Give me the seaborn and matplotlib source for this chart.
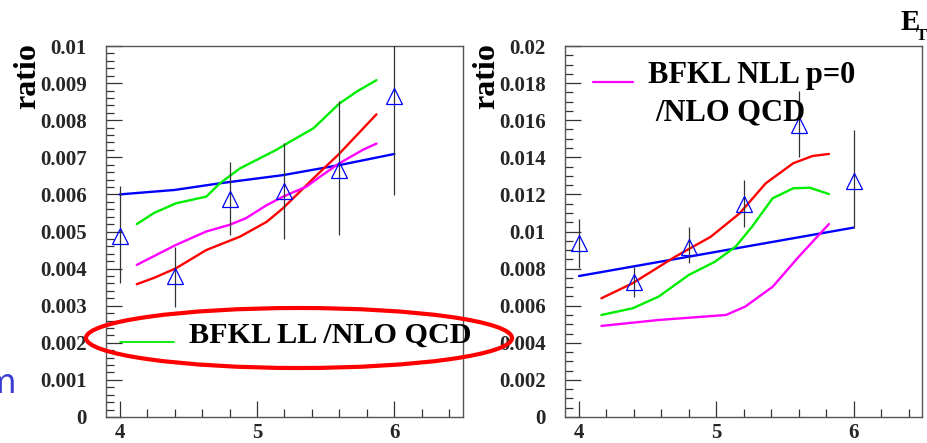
import numpy as np
import matplotlib
matplotlib.use('Agg')
import matplotlib.pyplot as plt
from matplotlib.patches import Ellipse
from matplotlib.lines import Line2D
from matplotlib.ticker import MultipleLocator
import seaborn as sns

# measured points (triangles) with error bars
pts_x = [4.0, 4.4, 4.8, 5.2, 5.6, 6.0]

left_pts = [0.00488, 0.00379, 0.00587, 0.00610, 0.00666, 0.00865]
left_lo = [0.00362, 0.00297, 0.00490, 0.00480, 0.00490, 0.00598]
left_hi = [0.00622, 0.00459, 0.00686, 0.00739, 0.00852, 0.01120]

right_pts = [0.00936, 0.00729, 0.00918, 0.01148, 0.01574, 0.01274]
right_lo = [0.00802, 0.00648, 0.00829, 0.01023, 0.01400, 0.01017]
right_hi = [0.01066, 0.00810, 0.01026, 0.01278, 0.01759, 0.01547]

# theory curves, left panel
lb_x = [4.0, 4.4, 4.73, 5.19, 5.6, 6.0]
lb_y = [0.00600, 0.00612, 0.00630, 0.00652, 0.00679, 0.00709]
lg_x = [4.124, 4.25, 4.41, 4.63, 4.73, 4.875, 5.14, 5.24, 5.41, 5.6, 5.73, 5.87]
lg_y = [0.00520, 0.00550, 0.00576, 0.00594, 0.00630, 0.00670, 0.00720, 0.00742, 0.00778, 0.00845, 0.00878, 0.00908]
lr_x = [4.124, 4.25, 4.41, 4.63, 4.875, 5.07, 5.19, 5.41, 5.6, 5.87]
lr_y = [0.00358, 0.00375, 0.00401, 0.00450, 0.00486, 0.00526, 0.00563, 0.00643, 0.00710, 0.00816]
lm_x = [4.124, 4.41, 4.63, 4.80, 4.92, 5.07, 5.19, 5.36, 5.46, 5.6, 5.77, 5.87]
lm_y = [0.00410, 0.00464, 0.00500, 0.00518, 0.00536, 0.00571, 0.00594, 0.00621, 0.00648, 0.00684, 0.00720, 0.00737]

# theory curves, right panel
rb_x = [4.0, 6.0]
rb_y = [0.00760, 0.01021]
rr_x = [4.163, 4.39, 4.70, 4.96, 5.17, 5.36, 5.56, 5.70, 5.82]
rr_y = [0.00640, 0.00721, 0.00864, 0.00972, 0.01098, 0.01260, 0.01368, 0.01407, 0.01418]
rg_x = [4.163, 4.39, 4.58, 4.80, 4.99, 5.14, 5.26, 5.41, 5.56, 5.68, 5.82]
rg_y = [0.00550, 0.00586, 0.00649, 0.00766, 0.00837, 0.00918, 0.01026, 0.01179, 0.01233, 0.01236, 0.01202]
rm_x = [4.163, 4.58, 5.07, 5.21, 5.41, 5.60, 5.82]
rm_y = [0.00491, 0.00523, 0.00550, 0.00595, 0.00702, 0.00864, 0.01040]

x_ticks = [4, 5, 6]
x_labels = ['4', '5', '6']
left_ticks = [0, 0.001, 0.002, 0.003, 0.004, 0.005, 0.006, 0.007, 0.008, 0.009, 0.01]
left_labels = ['0', '0.001', '0.002', '0.003', '0.004', '0.005', '0.006', '0.007', '0.008', '0.009', '0.01']
right_ticks = [0, 0.002, 0.004, 0.006, 0.008, 0.01, 0.012, 0.014, 0.016, 0.018, 0.02]
right_labels = ['0', '0.002', '0.004', '0.006', '0.008', '0.01', '0.012', '0.014', '0.016', '0.018', '0.02']

sns.set_style('ticks')
plt.rcParams['font.family'] = ['Liberation Serif', 'DejaVu Sans']

W, H = 928, 443
fig = plt.figure(figsize=(9.28, 4.43), dpi=100)
ax1 = fig.add_axes([106 / W, 26 / H, 357 / W, 371 / H])
ax2 = fig.add_axes([565.3 / W, 26 / H, 357 / W, 371 / H])

BLUE, GREEN, RED, MAG = '#0000ff', '#00ee00', '#ff0000', '#ff00ff'
LW = 1.7
TICKFONT = dict(fontsize=15, fontweight='bold', family='Liberation Serif')


def draw_panel(ax, pts, lo, hi, curves, ymax, yticks, ylabels, yminor):
    for cx, cy, col in curves:
        sns.lineplot(x=cx, y=cy, ax=ax, color=col, lw=LW, sort=False, estimator=None)
    yerr = [np.array(pts) - np.array(lo), np.array(hi) - np.array(pts)]
    ax.errorbar(pts_x, pts, yerr=yerr, fmt='none', ecolor='#333333', elinewidth=0.9, capsize=0, zorder=3)
    ax.plot(pts_x, pts, ls='none', marker='^', ms=11, mfc='none', mec='#0000ff', mew=0.9, zorder=4)

    ax.set_xlim(3.9, 6.5)
    ax.set_ylim(0, ymax)
    ax.set_xlabel('')
    ax.set_ylabel('')
    ax.xaxis.set_minor_locator(MultipleLocator(0.2))
    ax.yaxis.set_minor_locator(MultipleLocator(yminor))
    ax.tick_params(which='both', direction='in', top=False, right=False, color='#333333', width=0.9)
    ax.tick_params(which='major', length=11.5, labelsize=15)
    ax.tick_params(which='minor', length=5.8)
    ax.tick_params(axis='y', which='major', pad=14)
    ax.tick_params(axis='x', which='major', pad=4.5)
    ax.set_xticks(x_ticks)
    ax.set_xticklabels(x_labels, **TICKFONT)
    ax.set_yticks(yticks)
    ax.set_yticklabels(ylabels, **TICKFONT)
    for sp in ax.spines.values():
        sp.set_visible(True)
        sp.set_color('#555555')
        sp.set_linewidth(1.0)


draw_panel(ax1, left_pts, left_lo, left_hi,
           [(lb_x, lb_y, BLUE), (lg_x, lg_y, GREEN), (lr_x, lr_y, RED), (lm_x, lm_y, MAG)],
           0.01, left_ticks, left_labels, 0.0002)
draw_panel(ax2, right_pts, right_lo, right_hi,
           [(rb_x, rb_y, BLUE), (rg_x, rg_y, GREEN), (rr_x, rr_y, RED), (rm_x, rm_y, MAG)],
           0.02, right_ticks, right_labels, 0.0005)

bold = dict(fontweight='bold', color='black')
fig.text(27.5 / W, 1 - 43 / H, 'ratio', rotation=90, ha='center', va='top', fontsize=23, **bold)
fig.text(486.5 / W, 1 - 43 / H, 'ratio', rotation=90, ha='center', va='top', fontsize=23, **bold)

# E_T label
fig.text(901 / W, 1 - 30 / H, 'E', ha='left', va='baseline', fontsize=21, **bold)
fig.text(916 / W, 1 - 40 / H, 'T', ha='left', va='baseline', fontsize=12.5, **bold)

# left legend with red ellipse
fig.add_artist(Line2D([120 / W, 174 / W], [1 - 342 / H, 1 - 342 / H], color=GREEN, lw=1.3,
                      transform=fig.transFigure))
fig.text(189 / W, 1 - 343 / H, 'BFKL LL /NLO QCD', ha='left', va='baseline', fontsize=21.7, **bold)
fig.add_artist(Ellipse((299 / W, 1 - 338 / H), 426 / W, 60 / H, fill=False, edgecolor='#ff0000',
                       lw=3, transform=fig.transFigure, zorder=10))

# right legend
fig.add_artist(Line2D([593 / W, 633 / W], [1 - 82 / H, 1 - 82 / H], color=MAG, lw=1.6,
                      transform=fig.transFigure))
fig.text(648 / W, 1 - 83 / H, 'BFKL NLL p=0', ha='left', va='baseline', fontsize=22, **bold)
fig.text(655 / W, 1 - 120 / H, '/NLO QCD', ha='left', va='baseline', fontsize=22, **bold)

# stray slide letter at the left edge
fig.text(17 / W, 1 - 393 / H, 'm', ha='right', va='baseline', fontsize=24, color='#3c3cd2',
         family='DejaVu Sans')

fig.savefig('out.png', dpi=100)
